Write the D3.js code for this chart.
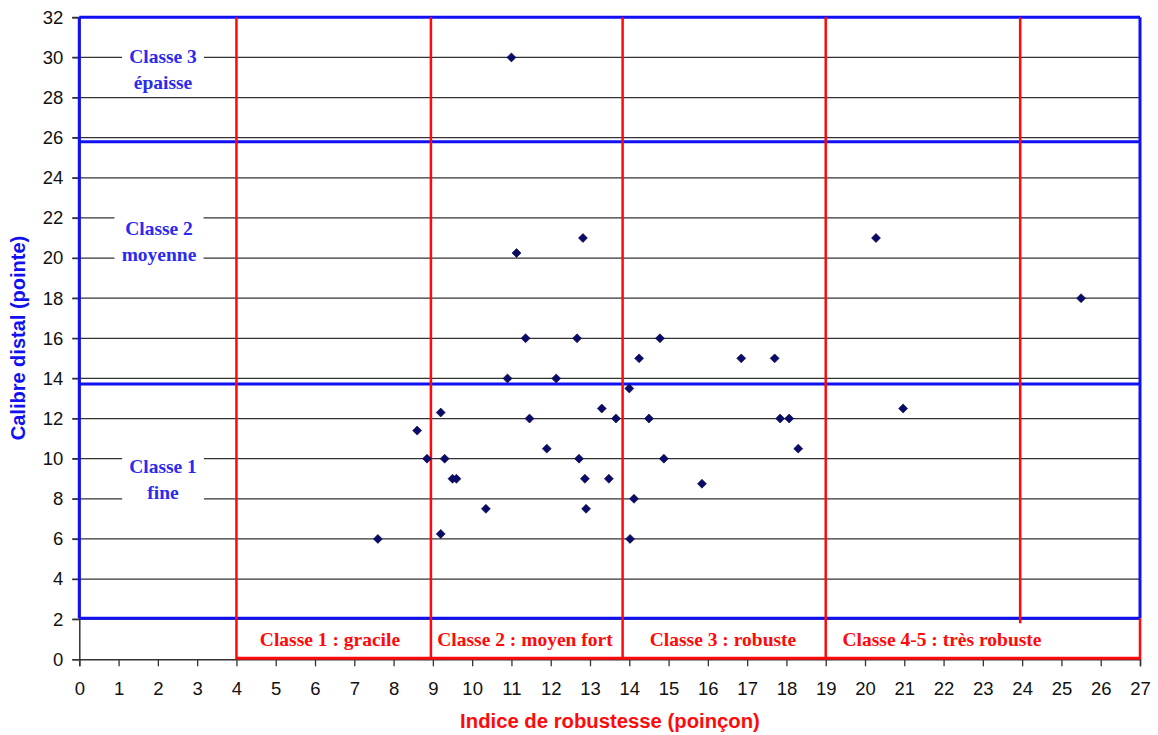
<!DOCTYPE html>
<html><head><meta charset="utf-8">
<script src="https://cdn.jsdelivr.net/npm/d3@7/dist/d3.min.js"></script>
<style>html,body{margin:0;padding:0;background:#fff}</style>
</head><body>
<svg id="chart" width="1158" height="735"></svg>
<script>
// ---- data ----
const robustesse = [7.6, 8.6, 8.85, 9.2, 9.3, 9.2, 9.5, 9.6, 10.35, 11.0, 10.9, 11.13, 11.36, 11.46, 11.9, 12.14, 12.67, 12.72, 12.82, 12.87, 12.9, 13.3, 13.48, 13.66, 14.0, 14.02, 14.12, 14.25, 14.5, 14.78, 14.88, 15.85, 16.85, 17.7, 17.84, 18.07, 18.3, 20.28, 20.97, 25.5];
const calibre    = [6, 11.4, 10, 12.3, 10, 6.25, 9, 9, 7.5, 30, 14, 20.25, 16, 12, 10.5, 14, 16, 10, 21, 9, 7.5, 12.5, 9, 12, 13.5, 6, 8, 15, 12, 16, 10, 8.75, 15, 15, 12, 12, 10.5, 21, 12.5, 18];
const xTicks = d3.range(0, 28, 1);
const yTicks = d3.range(0, 33, 2);
const robustBounds = [4, 8.95, 13.83, 19, 23.95];   // red vertical class limits
const calibreBounds = [2.05, 13.72, 25.8, 32];      // blue horizontal class limits
const robustLabels = ["Classe 1 : gracile", "Classe 2 : moyen fort", "Classe 3 : robuste", "Classe 4-5 : très robuste"];
const calibreLabels = [["Classe 1", "fine"], ["Classe 2", "moyenne"], ["Classe 3", "épaisse"]];
const xTitle = "Indice de robustesse (poinçon)";
const yTitle = "Calibre distal (pointe)";

// ---- layout ----
const svg = d3.select("#chart");
const x = d3.scaleLinear().domain([0, 27]).range([79.3, 1140]);
const y = d3.scaleLinear().domain([0, 32]).range([659.3, 17.3]);
const BLUE = "#1010f0", RED = "#ff0a0a", LBLUE = "#2b2bee";
const SERIF = "Liberation Serif, DejaVu Serif, serif";
const SANS = "Liberation Sans, Arial, sans-serif";

// gridlines
svg.append("g").selectAll("line").data(yTicks.filter(d => d > 0)).join("line")
  .attr("x1", x(0) - 7).attr("x2", x(27))
  .attr("y1", d => y(d)).attr("y2", d => y(d))
  .attr("stroke", "#333").attr("stroke-width", 1.2);

// axes
const gx = svg.append("g").attr("transform", `translate(0,${y(0)})`)
  .call(d3.axisBottom(x).tickValues(xTicks).tickSize(7).tickPadding(16).tickFormat(d3.format("d")));
const gy = svg.append("g").attr("transform", `translate(${x(0)},0)`)
  .call(d3.axisLeft(y).tickValues(yTicks).tickSize(7).tickPadding(9).tickFormat(d3.format("d")));
[gx, gy].forEach(g => {
  g.select(".domain").attr("stroke", "#333").attr("stroke-width", 1.5);
  g.selectAll(".tick line").attr("stroke", "#333").attr("stroke-width", 1.3);
  g.selectAll("text").attr("font-family", SANS).attr("font-size", 18.5).attr("fill", "#111");
});

// blue class box (calibre)
const bx0 = x(0), bx1 = x(27);
calibreBounds.forEach(v => {
  svg.append("line").attr("x1", bx0).attr("x2", bx1).attr("y1", y(v)).attr("y2", y(v))
    .attr("stroke", BLUE).attr("stroke-width", 3);
});
[0, 27].forEach(v => {
  svg.append("line").attr("x1", x(v)).attr("x2", x(v))
    .attr("y1", y(calibreBounds[0])).attr("y2", y(32))
    .attr("stroke", BLUE).attr("stroke-width", 3);
});

// red class lines (robustesse)
robustBounds.forEach((v, i) => {
  const bottom = i === robustBounds.length - 1 ? y(1.8) : y(0);
  svg.append("line").attr("x1", x(v)).attr("x2", x(v)).attr("y1", y(32)).attr("y2", bottom)
    .attr("stroke", RED).attr("stroke-width", 2.5);
});
svg.append("line").attr("x1", x(4)).attr("x2", x(27)).attr("y1", y(0) - 1).attr("y2", y(0) - 1)
  .attr("stroke", RED).attr("stroke-width", 3);
svg.append("line").attr("x1", x(27)).attr("x2", x(27)).attr("y1", y(0)).attr("y2", y(calibreBounds[0]))
  .attr("stroke", RED).attr("stroke-width", 2.5);

// red labels
const redCx = [330, 525, 723, 942];
robustLabels.forEach((t, i) => {
  svg.append("text").attr("x", redCx[i]).attr("y", 646).attr("text-anchor", "middle")
    .attr("font-family", SERIF).attr("font-weight", "bold")
    .attr("font-size", 19.5).attr("fill", RED).text(t);
});

// blue class labels with white boxes
const labCx = [163, 159, 163];
const labBase = [473, 235, 63];
calibreLabels.forEach((lines, i) => {
  const g = svg.append("g");
  const rect = g.append("rect").attr("fill", "#fff");
  lines.forEach((t, j) => {
    g.append("text").attr("x", labCx[i]).attr("y", labBase[i] + j * 26).attr("text-anchor", "middle")
      .attr("font-family", SERIF).attr("font-weight", "bold")
      .attr("font-size", 19.5).attr("fill", LBLUE).text(t);
  });
  const bb = g.node().getBBox();
  const w = Math.max(bb.width + 14, 81);
  rect.attr("x", labCx[i] - w / 2).attr("y", bb.y - 3).attr("width", w).attr("height", bb.height + 4);
});

// points
svg.append("g").selectAll("path").data(robustesse.map((d, i) => [d, calibre[i]])).join("path")
  .attr("d", d3.symbol(d3.symbolSquare, 40))
  .attr("transform", d => `translate(${x(d[0])},${y(d[1])}) rotate(45)`)
  .attr("fill", "#0a0a6a").attr("stroke", "#05053a").attr("stroke-width", 0.6);

// titles
svg.append("text").attr("x", 610).attr("y", 728).attr("text-anchor", "middle")
  .attr("font-family", SANS).attr("font-weight", "bold")
  .attr("font-size", 20.3).attr("fill", RED).text(xTitle);
svg.append("text").attr("transform", "translate(25,338) rotate(-90)").attr("text-anchor", "middle")
  .attr("font-family", SANS).attr("font-weight", "bold")
  .attr("font-size", 20).attr("fill", BLUE).text(yTitle);
</script>
</body></html>
